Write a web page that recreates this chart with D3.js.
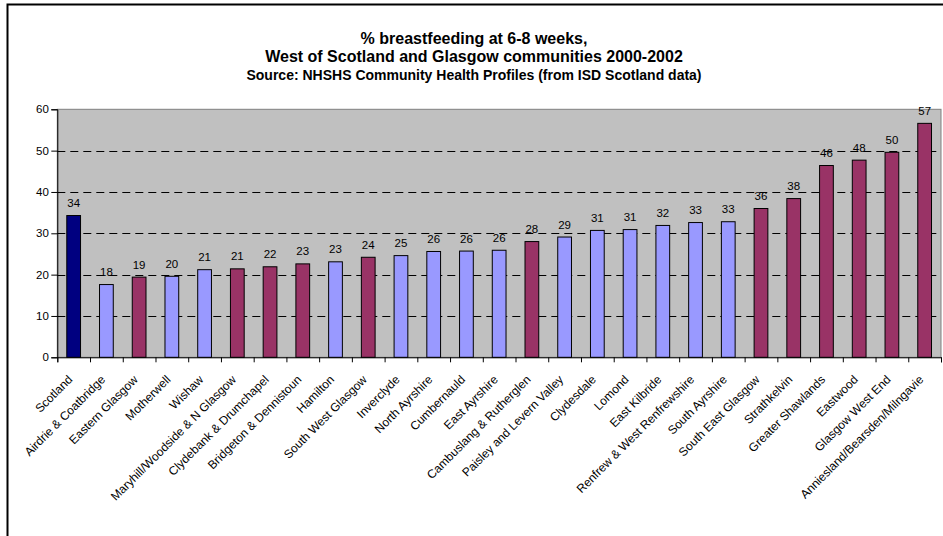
<!DOCTYPE html>
<html>
<head>
<meta charset="utf-8">
<script src="https://cdn.jsdelivr.net/npm/d3@7"></script>
<style>
  html, body { margin: 0; padding: 0; background: #ffffff; }
  svg { display: block; font-family: "Liberation Sans", Arial, sans-serif; }
</style>
</head>
<body>
<svg id="chart" width="943" height="536"></svg>
<script>
// Community areas, ordered from lowest to highest rate (Scotland first as the reference)
const categories = [
  "Scotland", "Airdrie & Coatbridge", "Eastern Glasgow", "Motherwell", "Wishaw",
  "Maryhill/Woodside & N Glasgow", "Clydebank & Drumchapel", "Bridgeton & Dennistoun",
  "Hamilton", "South West Glasgow", "Inverclyde", "North Ayrshire", "Cumbernauld",
  "East Ayrshire", "Cambuslang & Rutherglen", "Paisley and Levern Valley", "Clydesdale",
  "Lomond", "East Kilbride", "Renfrew & West Renfrewshire", "South Ayrshire",
  "South East Glasgow", "Strathkelvin", "Greater Shawlands", "Eastwood",
  "Glasgow West End", "Anniesland/Bearsden/Milngavie"
];

// % breastfeeding at 6-8 weeks
const values = [
  34.3, 17.6, 19.4, 19.6, 21.2,
  21.4, 21.9, 22.6,
  23.1, 24.2, 24.6, 25.6, 25.7,
  25.9, 28.0, 29.1, 30.7,
  30.9, 31.9, 32.6, 32.8,
  36.0, 38.4, 46.4, 47.7,
  49.6, 56.6
];

// Area group for each bar: national figure, Glasgow city communities, other West of Scotland areas
const groups = [
  "national", "other", "glasgow", "other", "other",
  "glasgow", "glasgow", "glasgow",
  "other", "glasgow", "other", "other", "other",
  "other", "glasgow", "other", "other",
  "other", "other", "other", "other",
  "glasgow", "glasgow", "glasgow", "glasgow",
  "glasgow", "glasgow"
];

const yTicks = [0, 10, 20, 30, 40, 50, 60];

const titleLines = [
  "% breastfeeding at 6-8 weeks,",
  "West of Scotland and Glasgow communities 2000-2002"
];
const sourceLine = "Source: NHSHS Community Health Profiles (from ISD Scotland data)";

const groupColors = { national: "#000080", glasgow: "#993366", other: "#9999FF" };

const svg = d3.select("#chart");

// outer chart frame
svg.append("rect")
  .attr("x", 7.5).attr("y", 4.5)
  .attr("width", 960).attr("height", 560)
  .attr("fill", "#ffffff").attr("stroke", "#000000").attr("stroke-width", 2);

// titles
const titleX = 474;
svg.append("text")
  .attr("x", titleX).attr("y", 43.5)
  .attr("text-anchor", "middle").attr("font-size", 16).attr("font-weight", "bold")
  .text(titleLines[0]);
svg.append("text")
  .attr("x", titleX).attr("y", 61.8)
  .attr("text-anchor", "middle").attr("font-size", 16).attr("font-weight", "bold")
  .text(titleLines[1]);
svg.append("text")
  .attr("x", titleX).attr("y", 80.2)
  .attr("text-anchor", "middle").attr("font-size", 14).attr("font-weight", "bold")
  .text(sourceLine);

const plot = { left: 57.3, right: 941, top: 109.3, bottom: 357.3 };

const x = d3.scaleBand()
  .domain(categories)
  .range([plot.left, plot.right])
  .paddingInner(0.58)
  .paddingOuter(0.29);

const xEdges = d3.scaleLinear()
  .domain([0, categories.length])
  .range([plot.left, plot.right]);

const y = d3.scaleLinear()
  .domain([0, 60])
  .range([plot.bottom, plot.top]);

// plot area background
svg.append("rect")
  .attr("x", plot.left).attr("y", plot.top)
  .attr("width", plot.right - plot.left).attr("height", plot.bottom - plot.top)
  .attr("fill", "#C0C0C0").attr("stroke", "#808080").attr("stroke-width", 1);

// dashed gridlines
svg.append("g")
  .selectAll("line")
  .data(yTicks.filter(t => t > 0 && t < 60))
  .join("line")
  .attr("x1", plot.left).attr("x2", plot.right)
  .attr("y1", d => Math.round(y(d)) + 0.5).attr("y2", d => Math.round(y(d)) + 0.5)
  .attr("stroke", "#000000").attr("stroke-width", 1)
  .attr("stroke-dasharray", "8,5");

// bars
svg.append("g")
  .selectAll("rect")
  .data(values)
  .join("rect")
  .attr("x", (d, i) => x(categories[i]))
  .attr("y", d => y(d))
  .attr("width", x.bandwidth())
  .attr("height", d => y(0) - y(d))
  .attr("fill", (d, i) => groupColors[groups[i]])
  .attr("stroke", "#000000").attr("stroke-width", 1);

// value labels
svg.append("g")
  .selectAll("text")
  .data(values)
  .join("text")
  .attr("x", (d, i) => x(categories[i]) + x.bandwidth() / 2)
  .attr("y", d => y(d) - 8.5)
  .attr("text-anchor", "middle")
  .attr("font-size", 11.5)
  .attr("fill", "#000000")
  .text(d => d3.format(".0f")(d));

// y axis
const yAxis = svg.append("g")
  .attr("transform", `translate(${plot.left},0)`)
  .call(d3.axisLeft(y).tickValues(yTicks).tickSize(6).tickPadding(2.5).tickFormat(d3.format("d")));
yAxis.select(".domain").attr("stroke", "#000000");
yAxis.selectAll("text").attr("font-size", 11.5).attr("font-family", "Liberation Sans, Arial, sans-serif").attr("fill", "#000");

// x axis line with ticks at category boundaries
const xAxis = svg.append("g")
  .attr("transform", `translate(0,${plot.bottom})`)
  .call(d3.axisBottom(xEdges).tickValues(d3.range(0, categories.length + 1)).tickSize(5).tickFormat(""));
xAxis.select(".domain").attr("stroke", "#000000");

// rotated category labels
svg.append("g")
  .selectAll("text")
  .data(categories)
  .join("text")
  .attr("transform", d => `translate(${x(d) + x.bandwidth() / 2 - 0.5},${plot.bottom + 23}) rotate(-45)`)
  .attr("text-anchor", "end")
  .attr("font-size", 12)
  .attr("fill", "#000000")
  .text(d => d);
</script>
</body>
</html>
